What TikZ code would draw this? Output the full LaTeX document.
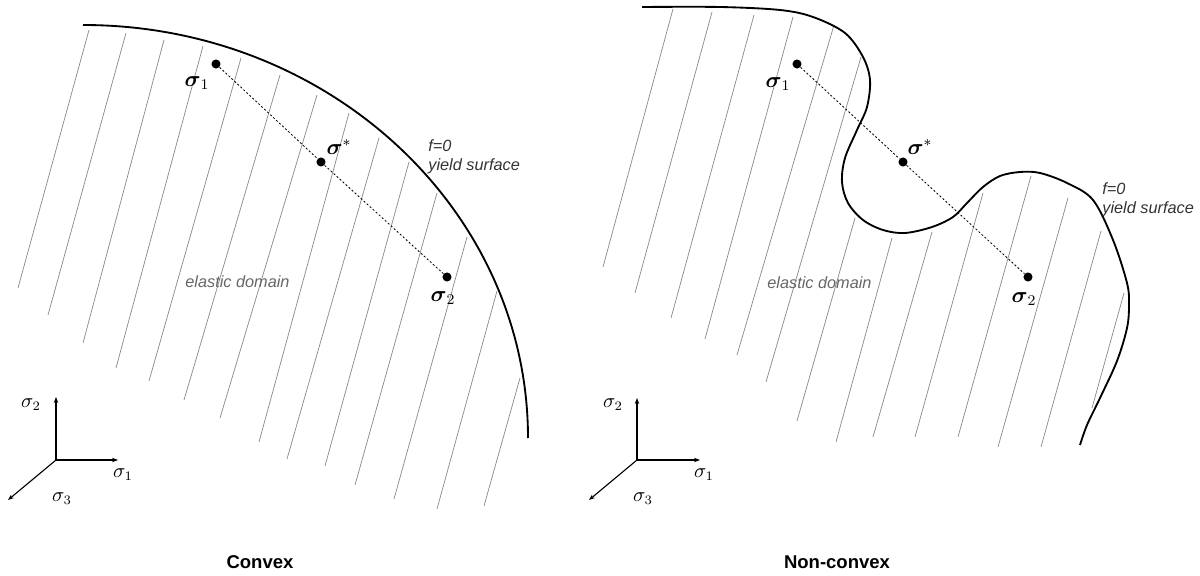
\documentclass[tikz,border=0pt]{standalone}
\usepackage{amsmath}
\usepackage{fontspec}
\newfontfamily\labelfont{Liberation Sans}
\usetikzlibrary{arrows.meta}

\begin{document}
\begin{tikzpicture}[x=0.54pt,y=-0.54pt,
    surface/.style={line width=1pt},
    hatch/.style={black!45,line width=0.4pt},
    axis/.style={line width=0.6pt,-{Stealth[length=3.2pt,width=2.4pt]}},
    dot/.style={circle,fill,inner sep=0pt,minimum size=4.9pt},
    joinline/.style={line width=0.45pt,dash pattern=on 1.1pt off 1.1pt},
    note/.style={font=\labelfont\itshape\fontsize{8.8}{10}\selectfont,inner sep=0pt},
    stress/.style={font=\fontsize{11.5}{13}\selectfont,inner sep=0pt},
    axlabel/.style={font=\fontsize{10.5}{12}\selectfont,inner sep=0pt},
    paneltitle/.style={font=\labelfont\bfseries\fontsize{10}{12}\selectfont}]

\useasboundingbox (0,0) rectangle (1200,576);

% Convex: hatching
\foreach \xa/\ya/\xb/\yb in {89/30/18/288, 126/33/48/315, 164/40/83/343,
    203/46/116/368, 241/58/149/381, 280/75/184/400, 317/95/220/418,
    349/113/259/442, 379/138/287/459, 409/162/325/466, 437/193/355/485,
    467/237/394/499, 497/291/437/509, 520/378/484/506}{
    \draw[hatch] (\xa,\ya) -- (\xb,\yb);
}

% Convex: yield surface
\draw[surface] (83,25) arc[start angle=-90,end angle=0,x radius=445,y radius=413];

\node[note,text=black!80,anchor=base west] (cf) at (428,152) {f=0};
\node[note,text=black!80,anchor=base west] (cy) at (428,171) {yield surface};
\node[note,text=black!60,anchor=base west] (cel) at (185,288) {elastic domain};

% Convex: stress points
\node[dot] (c1) at (216,64) {};
\node[dot] (cs) at (321,162) {};
\node[dot] (c2) at (447,277) {};
\draw[joinline] (c1) -- (cs) -- (c2);

\node[stress] (c1l) at (197,83) {$\boldsymbol{\sigma}_1$};
\node[stress] (csl) at (339,147) {$\boldsymbol{\sigma}^*$};
\node[stress] (c2l) at (443,298) {$\boldsymbol{\sigma}_2$};

% Convex: axes
\coordinate (co) at (56,460);
\coordinate (cx) at (118,460);
\coordinate (cy2) at (56,397);
\coordinate (cz) at (8,500);
\draw[axis] (co) -- (cx);
\draw[axis] (co) -- (cy2);
\draw[axis] (co) -- (cz);
\node[axlabel] (cxl) at (123,475) {$\sigma_1$};
\node[axlabel] (cyl) at (31,405) {$\sigma_2$};
\node[axlabel] (czl) at (62,499) {$\sigma_3$};

\node[paneltitle] (ct) at (260,562) {Convex};

% Non-convex: hatching
\foreach \xa/\ya/\xb/\yb in {673/9/603/267, 712/12/635/293, 754/15/671/318,
    793/17/705/339, 834/25/737/355, 861/57/766/382, 855/218/797/421,
    892/238/836/442, 932/232/873/437, 983/193/915/437, 1031/176/958/437,
    1068/198/998/447, 1101/231/1041/447, 1124/293/1092/408}{
    \draw[hatch] (\xa,\ya) -- (\xb,\yb);
}

% Non-convex: yield surface
\draw[surface] plot[smooth,tension=0.55] coordinates {
    (642,7) (720,7) (780,10) (813,17) (845,33) (863,57) (870,80) (867,107)
    (857,130) (845,158) (842,182) (848,203) (863,220) (883,230) (905,233)
    (932,227) (953,217) (967,203) (983,187) (1000,176) (1020,172) (1040,173)
    (1067,183) (1093,200) (1113,240) (1127,283) (1129,305) (1127,328)
    (1117,361) (1100,398) (1087,425) (1080,445)};

\node[note,text=black!80,anchor=base west] (nf) at (1102,195) {f=0};
\node[note,text=black!80,anchor=base west] (ny) at (1102,214) {yield surface};
\node[note,text=black!60,anchor=base west] (nel) at (767,289) {elastic domain};

% Non-convex: stress points
\node[dot] (n1) at (797,64) {};
\node[dot] (ns) at (903,162) {};
\node[dot] (n2) at (1028,277) {};
\draw[joinline] (n1) -- (ns) -- (n2);

\node[stress] (n1l) at (778,84) {$\boldsymbol{\sigma}_1$};
\node[stress] (nsl) at (920,147) {$\boldsymbol{\sigma}^*$};
\node[stress] (n2l) at (1024,299) {$\boldsymbol{\sigma}_2$};

% Non-convex: axes
\coordinate (no) at (637,460);
\coordinate (nx) at (700,460);
\coordinate (ny2) at (637,398);
\coordinate (nz) at (589,500);
\draw[axis] (no) -- (nx);
\draw[axis] (no) -- (ny2);
\draw[axis] (no) -- (nz);
\node[axlabel] (nxl) at (704,475) {$\sigma_1$};
\node[axlabel] (nyl) at (613,405) {$\sigma_2$};
\node[axlabel] (nzl) at (643,499) {$\sigma_3$};

\node[paneltitle] (nt) at (837,562) {Non-convex};

\end{tikzpicture}
\end{document}
